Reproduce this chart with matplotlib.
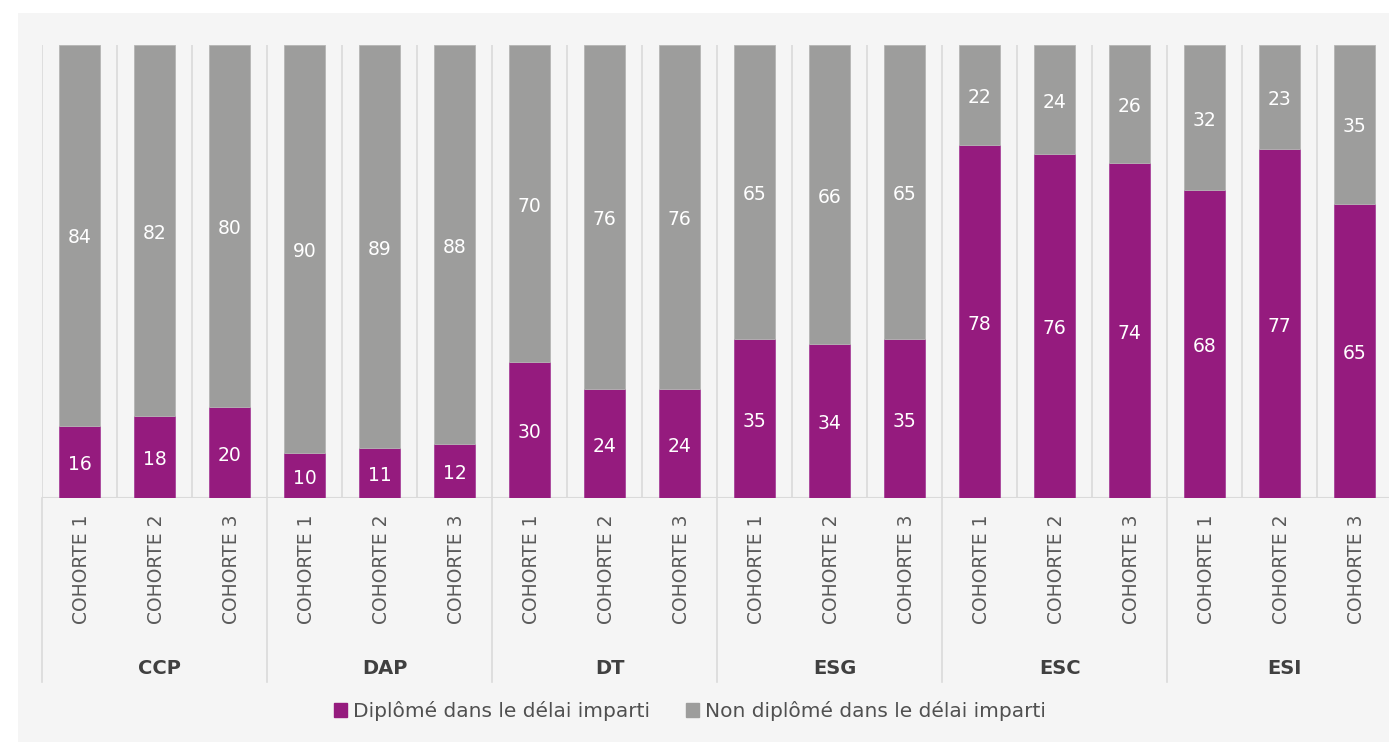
import numpy as np
import matplotlib.pyplot as plt
from matplotlib.patches import Rectangle

# --- Data ---
groups = ['CCP', 'DAP', 'DT', 'ESG', 'ESC', 'ESI']
cohorts = ['COHORTE 1', 'COHORTE 2', 'COHORTE 3']
diplome = [16, 18, 20, 10, 11, 12, 30, 24, 24, 35, 34, 35, 78, 76, 74, 68, 77, 65]
non_diplome = [84, 82, 80, 90, 89, 88, 70, 76, 76, 65, 66, 65, 22, 24, 26, 32, 23, 35]
legend_labels = ['Diplômé dans le délai imparti', 'Non diplômé dans le délai imparti']

PURPLE = '#951b7e'
GREY = '#9d9d9c'
PANEL = '#f5f5f5'
LINE = '#dadada'

plt.rcParams['font.family'] = ['DejaVu Sans']

W, H = 1389, 742
fig = plt.figure(figsize=(W / 100, H / 100), dpi=100)
fig.patches.append(Rectangle((18 / W, 0), 1, (H - 13) / H, transform=fig.transFigure,
                             facecolor=PANEL, edgecolor='none', zorder=-10))

# plot area in pixels: left 42, top 45, baseline 498, 75 px per bar
ax = fig.add_axes([42 / W, (H - 498) / H, 1350 / W, 453 / H])
ax.set_facecolor('none')

n = len(diplome)
x = np.arange(n)
ax.bar(x, diplome, width=0.55, color=PURPLE, edgecolor='#a8449a', linewidth=0.6, zorder=3)
ax.bar(x, non_diplome, width=0.55, bottom=diplome, color=GREY, edgecolor='#b5b5b4',
       linewidth=0.6, zorder=3)

for i in range(n):
    ax.text(x[i], diplome[i] / 2 - 0.6, str(diplome[i]), ha='center', va='center',
            color='white', fontsize=13.5, zorder=4)
    ax.text(x[i], diplome[i] + non_diplome[i] / 2 - 0.6, str(non_diplome[i]), ha='center',
            va='center', color='white', fontsize=13.5, zorder=4)

ax.set_xlim(-0.5, n - 0.5)
ax.set_ylim(0, 100)
ax.set_xticks([])
ax.set_yticks([])
for s in ax.spines.values():
    s.set_visible(False)

# separators between bars
for b in np.arange(-0.5, n, 1.0):
    ax.plot([b, b], [0, 1], color=LINE, lw=1.2, transform=ax.get_xaxis_transform(), zorder=1)
ax.axhline(0, color=LINE, lw=1.5, zorder=2)

# group separators extended below the axis
below = -(682 - 498) / 453
for b in np.arange(-0.5, n, 3.0):
    ax.plot([b, b], [below, 0], color=LINE, lw=1.2, transform=ax.get_xaxis_transform(),
            clip_on=False)

# cohort labels
for i in range(n):
    ax.text(x[i] + 0.03, -(514 - 498) / 453, cohorts[i % 3], rotation=90, ha='center',
            va='top', color='#5a5a5a', fontsize=13.5, transform=ax.get_xaxis_transform())

# group labels
for g, name in enumerate(groups):
    ax.text(g * 3 + 1.07, -(668 - 498) / 453, name, ha='center', va='center',
            color='#404040', fontsize=14, fontweight='bold',
            transform=ax.get_xaxis_transform())

# legend
handles = [Rectangle((0, 0), 1, 1, color=PURPLE), Rectangle((0, 0), 1, 1, color=GREY)]
fig.legend(handles, legend_labels, loc='center', bbox_to_anchor=(690 / W, (H - 711) / H),
           ncol=2, frameon=False, fontsize=14.5, handlelength=0.65, handleheight=0.65,
           handletextpad=0.3, columnspacing=1.8, labelcolor='#505050')

fig.savefig('out.png', dpi=100)
